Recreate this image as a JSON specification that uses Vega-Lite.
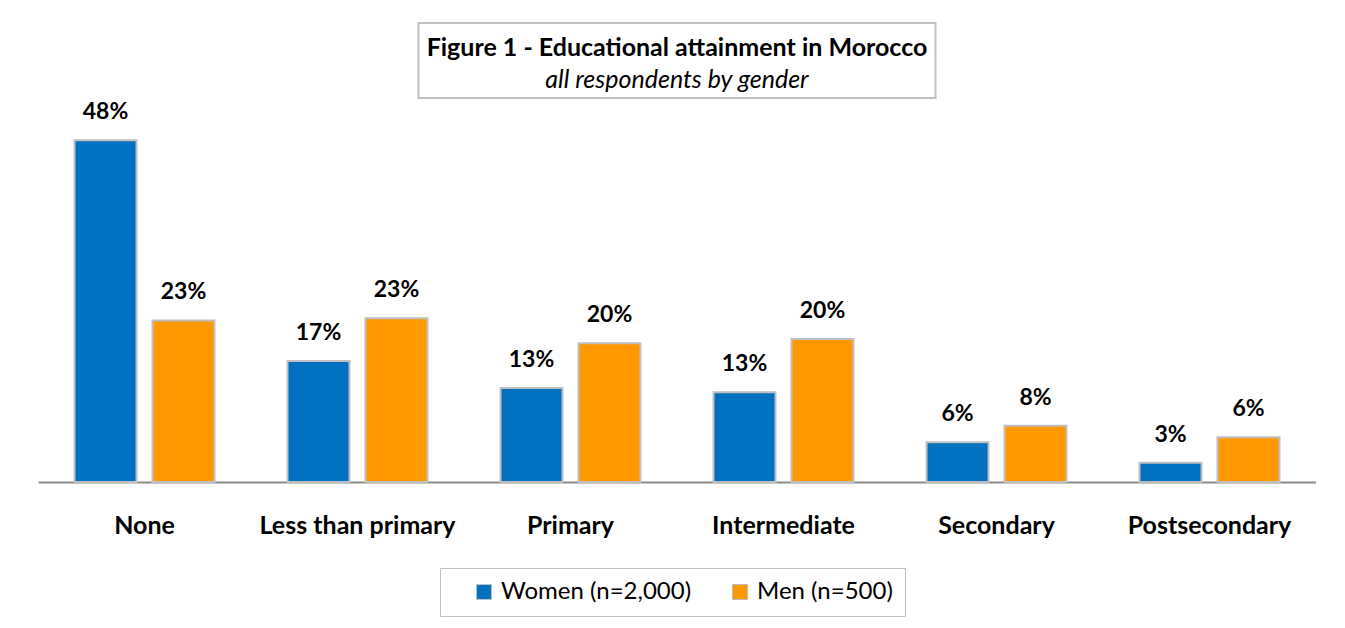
{
  "$schema": "https://vega.github.io/schema/vega-lite/v6.json",
  "padding": {"left": 38, "top": 22, "right": 0, "bottom": 0},
  "config": {
    "font": "Lato",
    "view": {"stroke": null}
  },
  "bounds": "flush",
  "center": true,
  "spacing": 28,
  "vconcat": [
    {
      "width": 517,
      "height": 75,
      "view": {"stroke": "#bfbfbf", "strokeWidth": 2},
      "data": {"values": [{"title": "Figure 1 - Educational attainment in Morocco", "subtitle": "all respondents by gender"}]},
      "layer": [
        {
          "mark": {"type": "text", "font": "Lato", "fontSize": 25, "fontWeight": "bold", "color": "black", "dy": -13},
          "encoding": {"text": {"field": "title"}}
        },
        {
          "mark": {"type": "text", "font": "Lato", "fontSize": 25, "fontStyle": "italic", "color": "black", "dy": 19},
          "encoding": {"text": {"field": "subtitle"}}
        }
      ]
    },
    {
      "width": 1278,
      "height": 356,
      "data": {
        "values": [
          {"category": "None", "gender": "Women (n=2,000)", "value": 0.48},
          {"category": "None", "gender": "Men (n=500)", "value": 0.227},
          {"category": "Less than primary", "gender": "Women (n=2,000)", "value": 0.17},
          {"category": "Less than primary", "gender": "Men (n=500)", "value": 0.23},
          {"category": "Primary", "gender": "Women (n=2,000)", "value": 0.132},
          {"category": "Primary", "gender": "Men (n=500)", "value": 0.195},
          {"category": "Intermediate", "gender": "Women (n=2,000)", "value": 0.126},
          {"category": "Intermediate", "gender": "Men (n=500)", "value": 0.201},
          {"category": "Secondary", "gender": "Women (n=2,000)", "value": 0.056},
          {"category": "Secondary", "gender": "Men (n=500)", "value": 0.079},
          {"category": "Postsecondary", "gender": "Women (n=2,000)", "value": 0.027},
          {"category": "Postsecondary", "gender": "Men (n=500)", "value": 0.063}
        ]
      },
      "encoding": {
        "x": {
          "field": "category",
          "type": "nominal",
          "sort": ["None", "Less than primary", "Primary", "Intermediate", "Secondary", "Postsecondary"],
          "scale": {"paddingInner": 0.343, "paddingOuter": 0.1715},
          "axis": {
            "title": null,
            "labelAngle": 0,
            "labelFont": "Lato",
            "labelFontSize": 25,
            "labelFontWeight": "bold",
            "labelColor": "black",
            "labelPadding": 31,
            "labelLimit": 400,
            "ticks": false,
            "domainColor": "#898989",
            "domainWidth": 2,
            "grid": false
          }
        },
        "xOffset": {
          "field": "gender",
          "type": "nominal",
          "sort": ["Women (n=2,000)", "Men (n=500)"],
          "scale": {"paddingInner": 0.205, "paddingOuter": 0}
        },
        "y": {
          "field": "value",
          "type": "quantitative",
          "scale": {"domain": [0, 0.5]},
          "axis": null
        }
      },
      "layer": [
        {
          "mark": {"type": "bar", "stroke": "#bfbfbf", "strokeWidth": 2},
          "encoding": {
            "color": {
              "field": "gender",
              "type": "nominal",
              "sort": ["Women (n=2,000)", "Men (n=500)"],
              "scale": {"domain": ["Women (n=2,000)", "Men (n=500)"], "range": ["#0070C0", "#FF9900"]},
              "legend": {
                "title": null,
                "orient": "none",
                "legendX": 402,
                "legendY": 545,
                "direction": "horizontal",
                "strokeColor": "#bfbfbf",
                "fillColor": "white",
                "padding": 12,
                "symbolType": "square",
                "symbolSize": 225,
                "symbolStrokeColor": "#bfbfbf",
                "symbolStrokeWidth": 1,
                "symbolOpacity": 1,
                "symbolOffset": 20,
                "labelFont": "Lato",
                "labelFontSize": 24,
                "labelColor": "black",
                "labelLimit": 400,
                "labelOffset": 5,
                "columnPadding": 16
              }
            }
          }
        },
        {
          "mark": {"type": "text", "baseline": "bottom", "dy": -16, "font": "Lato", "fontSize": 23, "fontWeight": "bold", "color": "black"},
          "encoding": {
            "text": {"field": "value", "type": "quantitative", "format": ".0%"}
          }
        }
      ]
    }
  ]
}
